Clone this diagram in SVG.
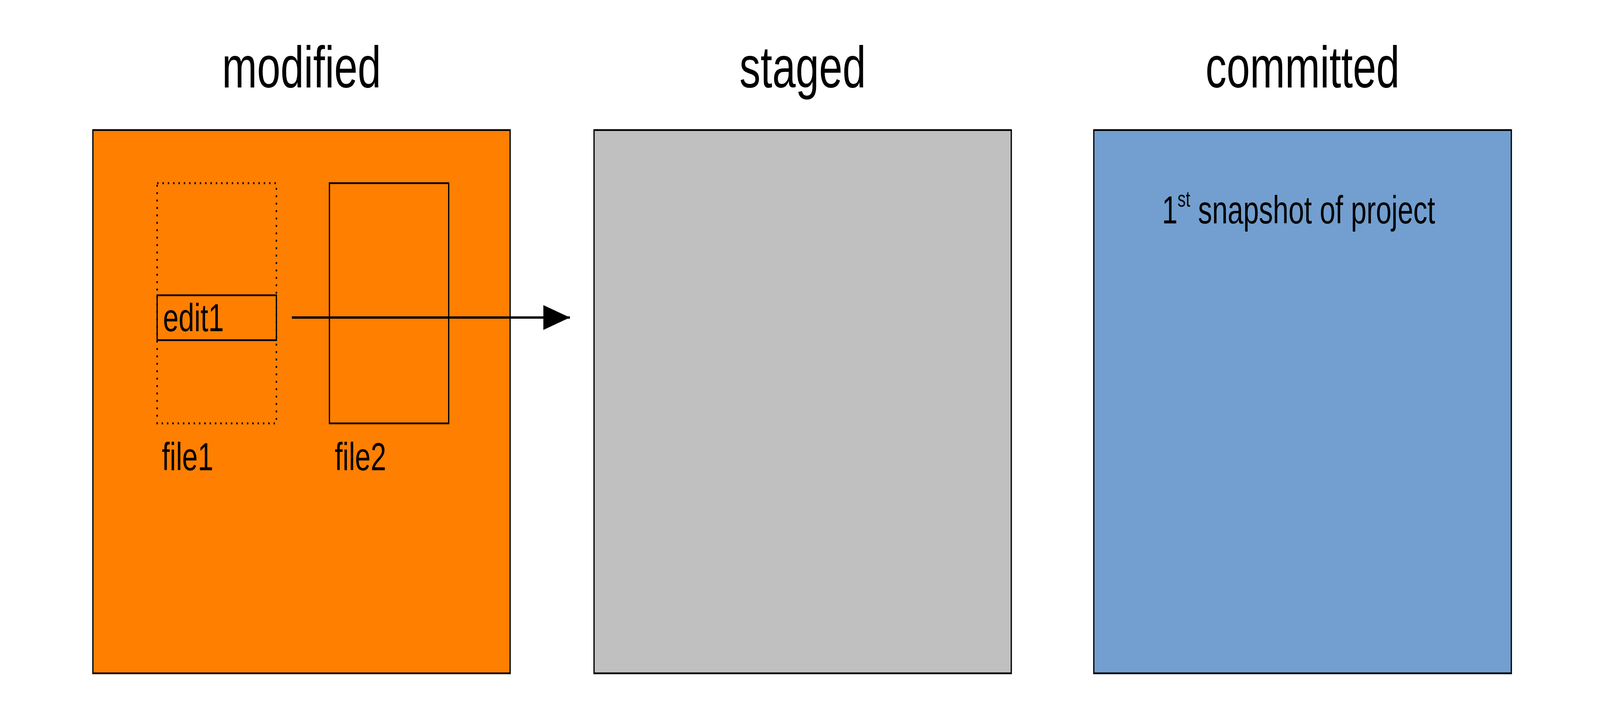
<svg xmlns="http://www.w3.org/2000/svg" width="5702" height="1864" viewBox="0 0 5702 1864" preserveAspectRatio="none" style="width:100%;height:100%">
  <style>
    .box { stroke: #000; stroke-width: 4.5; }
    .frame { fill: none; stroke: #000; stroke-width: 4.5; }
    .dotted { fill: none; stroke: #000; stroke-width: 5; stroke-dasharray: 5 14; }
    .title { font-family: "Liberation Sans", Arial, sans-serif; font-size: 150px; fill: #000; text-anchor: middle; }
    .label { font-family: "Liberation Sans", Arial, sans-serif; font-size: 100px; fill: #000; }
  </style>
  <defs>
    <marker id="arrowhead" markerUnits="userSpaceOnUse" markerWidth="96" markerHeight="64" refX="95" refY="32" orient="auto">
      <polygon points="0,0 95,32 0,64" fill="#000"/>
    </marker>
  </defs>
  <rect width="5702" height="1864" fill="#fff"/>

  <g id="modified">
    <text class="title" x="1074.5" y="224">modified</text>
    <rect class="box" x="331" y="333" width="1487" height="1391" fill="#ff7f00"/>
  </g>

  <g id="staged">
    <text class="title" x="2860.5" y="224">staged</text>
    <rect class="box" x="2117" y="333" width="1487" height="1391" fill="#c0c0c0"/>
  </g>

  <g id="committed">
    <text class="title" x="4642" y="224">committed</text>
    <rect class="box" x="3898" y="333" width="1488" height="1391" fill="#729fcf"/>
    <text class="label" x="4141" y="572">1<tspan font-size="58" dy="-43">st</tspan><tspan dy="43"> snapshot of project</tspan></text>
  </g>

  <g id="file1">
    <rect class="dotted" x="560" y="469" width="425" height="615"/>
    <text class="label" x="577" y="1204">file1</text>
  </g>

  <g id="edit1">
    <rect class="frame" x="560" y="756" width="425" height="115"/>
    <text class="label" x="581" y="848">edit1</text>
  </g>

  <g id="file2">
    <rect class="frame" x="1174" y="469" width="425" height="615"/>
    <text class="label" x="1193" y="1204">file2</text>
  </g>

  <g id="connectors">
    <line x1="1040" y1="813" x2="2031" y2="813" stroke="#000" stroke-width="6" marker-end="url(#arrowhead)"/>
  </g>
</svg>
